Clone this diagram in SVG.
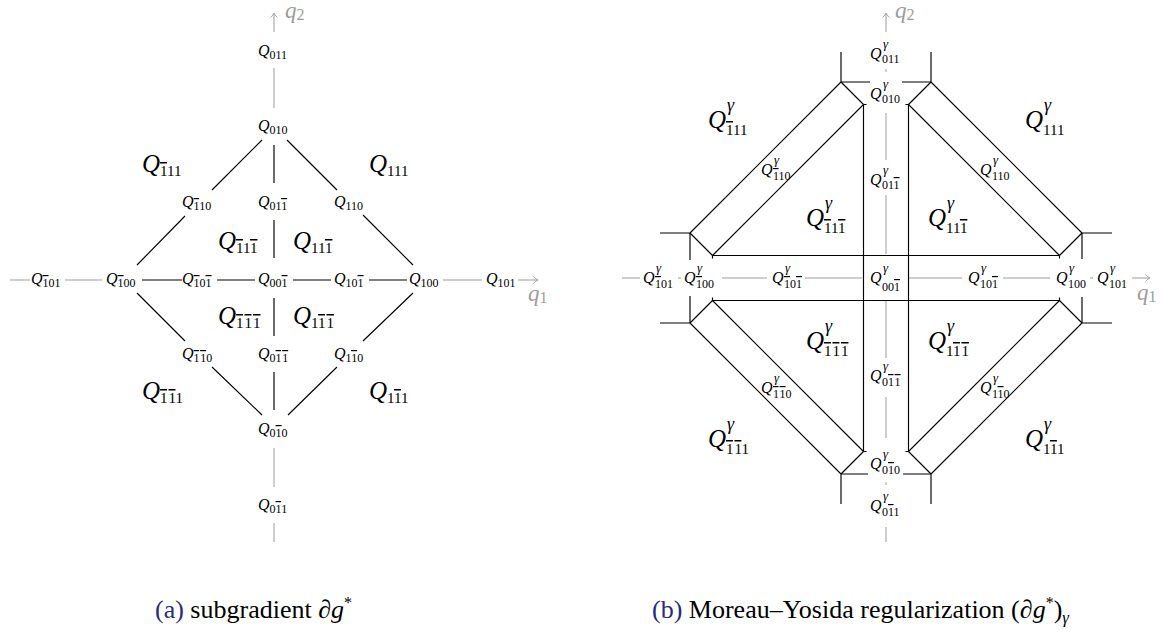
<svg xmlns="http://www.w3.org/2000/svg" width="1170" height="635" viewBox="0 0 1170 635">
<style>
.k{stroke:#000;stroke-width:1.15;fill:none;stroke-linecap:butt}
.g{stroke:#9c9c9c;stroke-width:1;fill:none}
.Q{font-family:"Liberation Serif",serif;font-style:italic;fill:#000}
.d{font-style:normal}
.o{text-decoration:overline}
.ax{font-family:"Liberation Serif",serif;font-style:italic;fill:#9c9c9c}
.cap{font-family:"Liberation Serif",serif;font-size:26px;fill:#000}
.lab{fill:#2a2a7e}
</style>
<defs>
<marker id="ah" markerWidth="8" markerHeight="10" viewBox="-6 -5 8 10" refX="0" refY="0" orient="auto" markerUnits="userSpaceOnUse">
<path d="M-4.5,-3.5 C-2.8,-1.6 -1.2,-0.5 0,0 C-1.2,0.5 -2.8,1.6 -4.5,3.5" fill="none" stroke="#9c9c9c" stroke-width="0.9"/>
</marker>
</defs>
<rect width="1170" height="635" fill="#fff"/>

<!-- ===== (a) subgradient ===== -->
<g id="axes-a">
<path class="g" d="M10,280H30M65,280H102M443,280H482M274,68V108M274,448V487M274,523V542"/>
<path class="g" d="M518,280H538" marker-end="url(#ah)"/>
<path class="g" d="M274,32V13" marker-end="url(#ah)"/>
<text class="ax" x="285" y="18" font-size="23">q<tspan class="d" font-size="16" dy="2">2</tspan></text>
<text class="ax" x="528" y="301" font-size="23">q<tspan class="d" font-size="16" dy="2">1</tspan></text>
</g>
<g id="connectors-a">
<path class="k" d="M262,140L212,190M185,216L137,265M287,140L337,190M363,215L413,265M137,293L185,341M212,367L262,415M288,415L337,367M363,341L413,293"/>
<path class="k" d="M274,145V183M274,220V258M274,298V336M274,372V410M142,280H182M217,280H255M293,280H331M369,280H407"/>
</g>

<g id="a011"><text class="Q" x="258" y="56" font-size="16">Q<tspan class="d" font-size="12" dy="3">011</tspan></text></g>
<g id="a010"><text class="Q" x="258" y="131" font-size="16">Q<tspan class="d" font-size="12" dy="3">010</tspan></text></g>
<g id="am110"><text class="Q" x="182" y="207" font-size="16">Q<tspan class="d" font-size="12" dy="3"><tspan class="o">1</tspan>10</tspan></text></g>
<g id="a01m1"><text class="Q" x="258" y="207" font-size="16">Q<tspan class="d" font-size="12" dy="3">01<tspan class="o">1</tspan></tspan></text></g>
<g id="a110"><text class="Q" x="334" y="207" font-size="16">Q<tspan class="d" font-size="12" dy="3">110</tspan></text></g>
<g id="am101"><text class="Q" x="31" y="284" font-size="16">Q<tspan class="d" font-size="12" dy="3"><tspan class="o">1</tspan>01</tspan></text></g>
<g id="am100"><text class="Q" x="106" y="284" font-size="16">Q<tspan class="d" font-size="12" dy="3"><tspan class="o">1</tspan>00</tspan></text></g>
<g id="am10m1"><text class="Q" x="182" y="284" font-size="16">Q<tspan class="d" font-size="12" dy="3"><tspan class="o">1</tspan>0<tspan class="o">1</tspan></tspan></text></g>
<g id="a00m1"><text class="Q" x="258" y="284" font-size="16">Q<tspan class="d" font-size="12" dy="3">00<tspan class="o">1</tspan></tspan></text></g>
<g id="a10m1"><text class="Q" x="334" y="284" font-size="16">Q<tspan class="d" font-size="12" dy="3">10<tspan class="o">1</tspan></tspan></text></g>
<g id="a100"><text class="Q" x="409" y="284" font-size="16">Q<tspan class="d" font-size="12" dy="3">100</tspan></text></g>
<g id="a101"><text class="Q" x="486" y="284" font-size="16">Q<tspan class="d" font-size="12" dy="3">101</tspan></text></g>
<g id="am1m10"><text class="Q" x="182" y="359" font-size="16">Q<tspan class="d" font-size="12" dy="3"><tspan class="o">1</tspan><tspan class="o" dx="1">1</tspan>0</tspan></text></g>
<g id="a0m1m1"><text class="Q" x="258" y="359" font-size="16">Q<tspan class="d" font-size="12" dy="3">0<tspan class="o">1</tspan><tspan class="o" dx="1">1</tspan></tspan></text></g>
<g id="a1m10"><text class="Q" x="334" y="359" font-size="16">Q<tspan class="d" font-size="12" dy="3">1<tspan class="o">1</tspan>0</tspan></text></g>
<g id="a0m10"><text class="Q" x="258" y="434" font-size="16">Q<tspan class="d" font-size="12" dy="3">0<tspan class="o">1</tspan>0</tspan></text></g>
<g id="a0m11"><text class="Q" x="258" y="510" font-size="16">Q<tspan class="d" font-size="12" dy="3">0<tspan class="o">1</tspan>1</tspan></text></g>

<g id="Am111"><text class="Q" x="142" y="172" font-size="25">Q<tspan class="d" font-size="15" dy="4"><tspan class="o">1</tspan>11</tspan></text></g>
<g id="A111"><text class="Q" x="369" y="172" font-size="25">Q<tspan class="d" font-size="15" dy="4">111</tspan></text></g>
<g id="Am11m1"><text class="Q" x="218" y="249" font-size="25">Q<tspan class="d" font-size="15" dy="4"><tspan class="o">1</tspan>1<tspan class="o">1</tspan></tspan></text></g>
<g id="A11m1"><text class="Q" x="293" y="249" font-size="25">Q<tspan class="d" font-size="15" dy="4">11<tspan class="o">1</tspan></tspan></text></g>
<g id="Am1m1m1"><text class="Q" x="218" y="324" font-size="25">Q<tspan class="d" font-size="15" dy="4"><tspan class="o">1</tspan><tspan class="o" dx="1.5">1</tspan><tspan class="o" dx="1.5">1</tspan></tspan></text></g>
<g id="A1m1m1"><text class="Q" x="293" y="324" font-size="25">Q<tspan class="d" font-size="15" dy="4">1<tspan class="o">1</tspan><tspan class="o" dx="1.5">1</tspan></tspan></text></g>
<g id="Am1m11"><text class="Q" x="142" y="399" font-size="25">Q<tspan class="d" font-size="15" dy="4"><tspan class="o">1</tspan><tspan class="o" dx="1.5">1</tspan>1</tspan></text></g>
<g id="A1m11"><text class="Q" x="369" y="399" font-size="25">Q<tspan class="d" font-size="15" dy="4">1<tspan class="o">1</tspan>1</tspan></text></g>

<g id="caption-a"><text class="cap" x="155" y="618"><tspan class="lab">(a)</tspan> subgradient ∂<tspan font-style="italic">g</tspan><tspan font-size="16" dy="-10">*</tspan></text></g>

<!-- ===== (b) Moreau-Yosida ===== -->
<g id="axes-b">
<path class="g" d="M886,69V72M886,113V160M886,195V254M886,301V358M886,397V438M886,482V485M886,527V542"/>
<path class="g" d="M622,278H640M678,278H681M722,278H767M805,278H862M909,278H962M1003,278H1050M1090,278H1093"/>
<path class="g" d="M1132,278H1150" marker-end="url(#ah)"/>
<path class="g" d="M886,32V13" marker-end="url(#ah)"/>
<text class="ax" x="895" y="18" font-size="23">q<tspan class="d" font-size="16" dy="2">2</tspan></text>
<text class="ax" x="1137" y="300" font-size="23">q<tspan class="d" font-size="16" dy="2">1</tspan></text>
</g>
<g id="connectors-b">
<path class="k" d="M712.5,255.5L863.5,104.5M690,233L841,82M712.5,255.5L690,233M863.5,104.5L841,82M690,233H660M841,82V52"/>
<path class="k" d="M908.5,104.5L1059.5,255.5M931,82L1082,233M908.5,104.5L931,82M1059.5,255.5L1082,233M931,82V52M1082,233H1112"/>
<path class="k" d="M712.5,300.5L863.5,451.5M690,323L841,474M712.5,300.5L690,323M863.5,451.5L841,474M690,323H660M841,474V504"/>
<path class="k" d="M908.5,451.5L1059.5,300.5M931,474L1082,323M908.5,451.5L931,474M1059.5,300.5L1082,323M931,474V504M1082,323H1112"/>
<path class="k" d="M712.5,255.5H1059.5M712.5,300.5H1059.5M863.5,104.5V451.5M908.5,104.5V451.5"/>
<path class="k" d="M690,233V260M690,296V323M1082,233V259M1082,297V323M841,82H870M902,82H931M841,474H868M903,474H931"/>
<path class="k" d="M712.5,255.5V258.5M712.5,297.5V300.5M1059.5,255.5V258.5M1059.5,297.5V300.5M863.5,104.5H866.5M905.5,104.5H908.5M863.5,451.5H866.5M905.5,451.5H908.5"/>
</g>

<g id="b011"><text class="Q" x="870" y="59" font-size="16">Q<tspan font-size="13" x="883" y="48">γ</tspan><tspan class="d" font-size="12" x="882" y="63">011</tspan></text></g>
<g id="b010"><text class="Q" x="870" y="99" font-size="16">Q<tspan font-size="13" x="883" y="88">γ</tspan><tspan class="d" font-size="12" x="882" y="103">010</tspan></text></g>
<g id="b01m1"><text class="Q" x="870" y="185" font-size="16">Q<tspan font-size="13" x="883" y="174">γ</tspan><tspan class="d" font-size="12" x="882" y="189">01<tspan class="o">1</tspan></tspan></text></g>
<g id="b00m1"><text class="Q" x="870" y="283" font-size="16">Q<tspan font-size="13" x="883" y="272">γ</tspan><tspan class="d" font-size="12" x="882" y="291">00<tspan class="o">1</tspan></tspan></text></g>
<g id="b0m1m1"><text class="Q" x="870" y="381" font-size="16">Q<tspan font-size="13" x="883" y="370">γ</tspan><tspan class="d" font-size="12" x="882" y="386">0<tspan class="o">1</tspan><tspan class="o" dx="1">1</tspan></tspan></text></g>
<g id="b0m10"><text class="Q" x="870" y="469" font-size="16">Q<tspan font-size="13" x="883" y="458">γ</tspan><tspan class="d" font-size="12" x="882" y="474">0<tspan class="o">1</tspan>0</tspan></text></g>
<g id="b0m11"><text class="Q" x="870" y="511" font-size="16">Q<tspan font-size="13" x="883" y="500">γ</tspan><tspan class="d" font-size="12" x="882" y="516">0<tspan class="o">1</tspan>1</tspan></text></g>
<g id="bm101"><text class="Q" x="643" y="283" font-size="16">Q<tspan font-size="13" x="656" y="272">γ</tspan><tspan class="d" font-size="12" x="655" y="288"><tspan class="o">1</tspan>01</tspan></text></g>
<g id="bm100"><text class="Q" x="684" y="283" font-size="16">Q<tspan font-size="13" x="697" y="272">γ</tspan><tspan class="d" font-size="12" x="696" y="288"><tspan class="o">1</tspan>00</tspan></text></g>
<g id="bm10m1"><text class="Q" x="772" y="283" font-size="16">Q<tspan font-size="13" x="785" y="272">γ</tspan><tspan class="d" font-size="12" x="784" y="288"><tspan class="o">1</tspan>0<tspan class="o">1</tspan></tspan></text></g>
<g id="b10m1"><text class="Q" x="968" y="283" font-size="16">Q<tspan font-size="13" x="981" y="272">γ</tspan><tspan class="d" font-size="12" x="980" y="288">10<tspan class="o">1</tspan></tspan></text></g>
<g id="b100"><text class="Q" x="1056" y="283" font-size="16">Q<tspan font-size="13" x="1069" y="272">γ</tspan><tspan class="d" font-size="12" x="1068" y="288">100</tspan></text></g>
<g id="b101"><text class="Q" x="1097" y="283" font-size="16">Q<tspan font-size="13" x="1110" y="272">γ</tspan><tspan class="d" font-size="12" x="1109" y="288">101</tspan></text></g>
<g id="bm110"><text class="Q" x="761" y="175" font-size="16">Q<tspan font-size="13" x="774" y="164">γ</tspan><tspan class="d" font-size="12" x="773" y="180"><tspan class="o">1</tspan>10</tspan></text></g>
<g id="b110"><text class="Q" x="980" y="175" font-size="16">Q<tspan font-size="13" x="993" y="164">γ</tspan><tspan class="d" font-size="12" x="992" y="180">110</tspan></text></g>
<g id="bm1m10"><text class="Q" x="761" y="393" font-size="16">Q<tspan font-size="13" x="774" y="382">γ</tspan><tspan class="d" font-size="12" x="773" y="398"><tspan class="o">1</tspan><tspan class="o" dx="1">1</tspan>0</tspan></text></g>
<g id="b1m10"><text class="Q" x="980" y="393" font-size="16">Q<tspan font-size="13" x="993" y="382">γ</tspan><tspan class="d" font-size="12" x="992" y="398">1<tspan class="o">1</tspan>0</tspan></text></g>

<g id="Bm111"><text class="Q" x="708" y="128" font-size="25">Q<tspan font-size="18" x="727" y="111">γ</tspan><tspan class="d" font-size="15" x="726" y="135"><tspan class="o">1</tspan>11</tspan></text></g>
<g id="B111"><text class="Q" x="1025" y="128" font-size="25">Q<tspan font-size="18" x="1044" y="111">γ</tspan><tspan class="d" font-size="15" x="1043" y="135">111</tspan></text></g>
<g id="Bm11m1"><text class="Q" x="806" y="226" font-size="25">Q<tspan font-size="18" x="825" y="209">γ</tspan><tspan class="d" font-size="15" x="824" y="233"><tspan class="o">1</tspan>1<tspan class="o">1</tspan></tspan></text></g>
<g id="B11m1"><text class="Q" x="928" y="226" font-size="25">Q<tspan font-size="18" x="947" y="209">γ</tspan><tspan class="d" font-size="15" x="946" y="233">11<tspan class="o">1</tspan></tspan></text></g>
<g id="Bm1m1m1"><text class="Q" x="806" y="349" font-size="25">Q<tspan font-size="18" x="825" y="332">γ</tspan><tspan class="d" font-size="15" x="824" y="356"><tspan class="o">1</tspan><tspan class="o" dx="1.5">1</tspan><tspan class="o" dx="1.5">1</tspan></tspan></text></g>
<g id="B1m1m1"><text class="Q" x="928" y="349" font-size="25">Q<tspan font-size="18" x="947" y="332">γ</tspan><tspan class="d" font-size="15" x="946" y="356">1<tspan class="o">1</tspan><tspan class="o" dx="1.5">1</tspan></tspan></text></g>
<g id="Bm1m11"><text class="Q" x="708" y="447" font-size="25">Q<tspan font-size="18" x="727" y="430">γ</tspan><tspan class="d" font-size="15" x="726" y="454"><tspan class="o">1</tspan><tspan class="o" dx="1.5">1</tspan>1</tspan></text></g>
<g id="B1m11"><text class="Q" x="1025" y="447" font-size="25">Q<tspan font-size="18" x="1044" y="430">γ</tspan><tspan class="d" font-size="15" x="1043" y="454">1<tspan class="o">1</tspan>1</tspan></text></g>

<g id="caption-b"><text class="cap" x="652" y="618"><tspan class="lab">(b)</tspan> Moreau–Yosida regularization (∂<tspan font-style="italic">g</tspan><tspan font-size="16" dy="-10">*</tspan><tspan dy="10">)</tspan><tspan font-style="italic" font-size="17" dy="5">γ</tspan></text></g>
</svg>
